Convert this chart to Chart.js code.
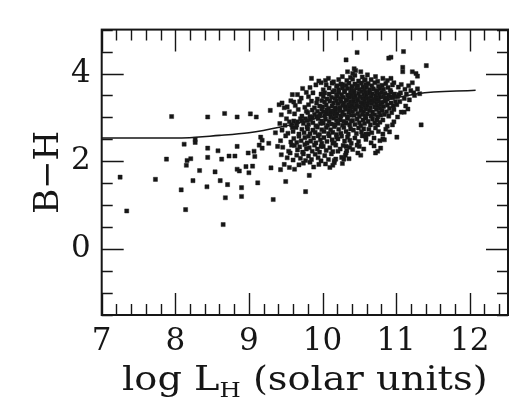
<!DOCTYPE html>
<html>
<head>
<meta charset="utf-8">
<script src="https://cdn.jsdelivr.net/npm/chart.js@4.4.0/dist/chart.umd.min.js"></script>
<style>
  html, body { margin: 0; padding: 0; background: #fff; }
  #wrap { width: 513px; height: 400px; }
</style>
</head>
<body>
<div id="wrap"><canvas id="plot"></canvas></div>
<script>
const xLabels = [7, 8, 9, 10, 11, 12];
const yLabels = [0, 2, 4];

// model colour track
const modelLogL = [7.0, 8.0, 8.6, 9.0, 9.43, 11.29, 12.08];
const modelBH = [2.53, 2.53, 2.59, 2.65, 2.78, 3.54, 3.62];

// galaxies: [log L_H, B-H]
const galaxies = [
  // faint, sparse end
  [7.25,1.64],[7.34,0.87],[7.73,1.59],[7.88,2.05],[7.95,3.02],[8.08,1.35],[8.12,2.39],[8.14,0.90],
  [8.15,1.91],[8.16,2.02],[8.21,2.06],[8.24,1.56],[8.27,2.50],[8.27,2.43],[8.33,1.79],[8.43,1.42],
  [8.44,3.01],[8.44,2.30],[8.44,2.09],[8.54,1.76],[8.58,2.24],[8.61,1.56],[8.63,2.05],[8.65,0.56],
  [8.67,3.09],[8.68,1.17],[8.71,1.47],[8.73,2.12],[8.81,2.12],[8.84,3.01],[8.84,2.34],[8.84,1.82],
  [8.87,1.78],[8.90,1.40],[8.90,1.20],[8.96,1.88],[8.99,2.19],[9.00,1.74],[9.02,3.08],[9.05,1.89],
  [9.07,2.23],[9.08,2.11],[9.10,3.01],[9.12,1.51],[9.16,2.55],[9.18,2.48],[9.14,2.37],[9.18,2.30],
  [9.27,2.41],[9.29,3.16],[9.30,1.85],[9.33,1.13],[9.36,2.65],[9.39,2.34],[9.41,3.29],[9.45,3.33],
  [9.43,1.81],[9.48,3.22],[9.50,1.54],[9.77,1.31],[9.82,1.68],[9.59,3.52],[9.66,3.52],[9.61,3.35],
  // 9.4 - 9.6
  [9.52,3.24],[9.57,3.38],[9.44,3.06],[9.55,3.13],[9.42,2.86],[9.51,2.97],[9.58,2.83],[9.45,2.71],
  [9.53,2.64],[9.59,2.77],[9.43,2.47],[9.50,2.58],[9.57,2.44],[9.46,2.32],[9.54,2.23],[9.58,2.37],
  [9.44,2.15],[9.52,2.08],[9.56,2.19],[9.48,1.93],[9.55,1.86],[9.49,2.82],[9.55,2.90],
  // 9.6 - 9.8
  [9.73,3.66],[9.71,3.44],[9.78,3.57],[9.63,3.27],[9.69,3.36],[9.76,3.23],[9.62,3.08],[9.67,3.18],
  [9.72,3.03],[9.78,3.14],[9.61,2.92],[9.65,2.83],[9.70,2.97],[9.74,2.86],[9.79,2.93],[9.60,2.68],
  [9.64,2.77],[9.68,2.62],[9.72,2.73],[9.75,2.65],[9.79,2.78],[9.61,2.52],[9.65,2.43],[9.68,2.57],
  [9.71,2.47],[9.76,2.54],[9.79,2.42],[9.62,2.36],[9.66,2.26],[9.69,2.33],[9.73,2.21],[9.76,2.38],
  [9.78,2.28],[9.60,2.03],[9.65,2.14],[9.70,2.07],[9.74,2.17],[9.77,2.02],[9.62,1.82],[9.68,1.92],
  [9.74,1.96],[9.66,2.90],[9.72,2.93],[9.77,2.97],
  // 9.8 - 10.0
  [9.85,3.89],[9.95,3.83],[9.83,3.68],[9.91,3.74],[9.98,3.79],[9.81,3.47],[9.87,3.56],[9.93,3.42],
  [9.98,3.53],[9.81,3.29],[9.85,3.37],[9.89,3.22],[9.92,3.33],[9.96,3.26],[9.99,3.38],[9.80,3.11],
  [9.83,3.02],[9.86,3.17],[9.89,3.07],[9.93,3.14],[9.96,3.04],[9.99,3.19],[9.81,2.84],[9.84,2.95],
  [9.87,2.88],[9.91,2.81],[9.94,2.97],[9.97,2.86],[9.99,2.92],[9.80,2.74],[9.83,2.63],[9.87,2.71],
  [9.90,2.66],[9.93,2.78],[9.96,2.61],[9.99,2.72],[9.81,2.57],[9.84,2.46],[9.88,2.53],[9.91,2.42],
  [9.94,2.58],[9.97,2.49],[9.99,2.41],[9.82,2.31],[9.86,2.23],[9.89,2.37],[9.93,2.28],[9.96,2.21],
  [9.98,2.34],[9.81,2.12],[9.85,2.04],[9.90,2.16],[9.94,2.08],[9.98,2.01],[9.83,1.98],[9.88,1.87],
  [9.95,1.93],[9.86,3.00],[9.92,3.02],[9.97,3.08],
  // 10.0 - 10.2
  [10.04,3.84],[10.08,3.89],[10.15,3.81],[10.01,3.63],[10.05,3.74],[10.09,3.67],[10.13,3.78],[10.16,3.61],
  [10.19,3.71],[10.01,3.47],[10.03,3.56],[10.06,3.42],[10.09,3.53],[10.12,3.46],[10.14,3.58],[10.17,3.43],
  [10.19,3.52],[10.00,3.24],[10.03,3.35],[10.05,3.28],[10.08,3.21],[10.10,3.37],[10.13,3.26],[10.15,3.33],
  [10.17,3.22],[10.19,3.38],[10.01,3.13],[10.03,3.04],[10.06,3.17],[10.08,3.08],[10.11,3.01],[10.13,3.15],
  [10.16,3.06],[10.18,3.19],[10.19,3.02],[10.01,2.87],[10.04,2.96],[10.07,2.82],[10.09,2.91],[10.12,2.85],
  [10.15,2.98],[10.17,2.83],[10.19,2.93],[10.02,2.68],[10.05,2.77],[10.08,2.63],[10.11,2.72],[10.14,2.66],
  [10.16,2.79],[10.19,2.61],[10.02,2.54],[10.06,2.45],[10.09,2.58],[10.13,2.49],[10.16,2.42],[10.19,2.55],
  [10.01,2.34],[10.05,2.25],[10.10,2.31],[10.14,2.22],[10.18,2.37],[10.03,2.13],[10.08,2.04],[10.16,2.02],
  [10.12,2.17],[10.04,1.94],[10.14,1.91],[10.10,1.86],[10.21,2.23],[10.18,2.05],[10.14,2.41],
  [10.05,3.10],[10.11,3.12],[10.17,3.14],
  // 10.2 - 10.4
  [10.34,4.04],[10.22,3.86],[10.27,3.93],[10.33,3.84],[10.38,3.91],[10.20,3.72],[10.22,3.63],[10.25,3.76],
  [10.27,3.67],[10.30,3.61],[10.32,3.73],[10.34,3.66],[10.36,3.78],[10.39,3.64],[10.20,3.48],[10.22,3.57],
  [10.24,3.43],[10.26,3.52],[10.28,3.46],[10.30,3.58],[10.32,3.41],[10.34,3.51],[10.36,3.45],[10.38,3.56],
  [10.39,3.47],[10.21,3.31],[10.23,3.22],[10.25,3.36],[10.27,3.27],[10.29,3.33],[10.31,3.21],[10.33,3.38],
  [10.35,3.29],[10.36,3.23],[10.38,3.35],[10.39,3.26],[10.20,3.09],[10.23,3.17],[10.25,3.03],[10.27,3.12],
  [10.30,3.06],[10.32,3.18],[10.34,3.01],[10.36,3.11],[10.37,3.16],[10.39,3.05],[10.21,2.86],[10.24,2.94],
  [10.27,2.82],[10.29,2.91],[10.32,2.87],[10.34,2.97],[10.37,2.83],[10.39,2.92],[10.22,2.73],[10.25,2.64],
  [10.29,2.77],[10.32,2.68],[10.35,2.62],[10.38,2.74],[10.21,2.51],[10.26,2.57],[10.30,2.46],[10.34,2.55],
  [10.37,2.48],[10.24,2.28],[10.28,2.36],[10.33,2.24],[10.37,2.32],[10.26,2.09],[10.31,2.14],[10.36,2.06],
  [10.32,2.34],[10.39,2.41],[10.41,2.27],[10.32,2.19],[10.29,2.05],[10.27,1.95],[10.16,1.97],
  [10.24,3.20],[10.31,3.24],[10.37,3.25],
  // 10.4 - 10.6
  [10.43,4.11],[10.45,4.07],[10.52,4.04],[10.41,3.87],[10.44,3.96],[10.49,3.83],[10.54,3.92],[10.58,3.86],
  [10.40,3.71],[10.42,3.62],[10.44,3.76],[10.46,3.67],[10.48,3.73],[10.50,3.64],[10.53,3.78],[10.55,3.69],
  [10.57,3.61],[10.59,3.74],[10.40,3.53],[10.42,3.44],[10.43,3.58],[10.45,3.49],[10.47,3.41],[10.49,3.55],
  [10.51,3.47],[10.53,3.59],[10.54,3.43],[10.56,3.52],[10.58,3.46],[10.59,3.57],[10.40,3.28],[10.42,3.36],
  [10.44,3.22],[10.46,3.31],[10.48,3.39],[10.50,3.25],[10.52,3.34],[10.53,3.21],[10.55,3.29],[10.57,3.37],
  [10.58,3.24],[10.59,3.32],[10.41,3.14],[10.43,3.05],[10.45,3.18],[10.48,3.09],[10.50,3.02],[10.52,3.16],
  [10.54,3.07],[10.56,3.13],[10.58,3.03],[10.59,3.19],[10.41,2.93],[10.44,2.84],[10.47,2.96],[10.50,2.88],
  [10.52,2.81],[10.55,2.94],[10.57,2.86],[10.59,2.98],[10.42,2.71],[10.46,2.63],[10.49,2.76],[10.53,2.67],
  [10.56,2.74],[10.59,2.62],[10.44,2.53],[10.49,2.45],[10.54,2.58],[10.59,2.56],[10.47,2.37],[10.50,2.34],
  [10.56,2.28],[10.48,2.19],[10.52,2.14],[10.46,3.27],[10.54,3.33],
  // 10.6 - 10.8
  [10.61,3.97],[10.66,3.86],[10.72,3.93],[10.75,3.82],[10.60,3.68],[10.62,3.77],[10.64,3.63],[10.67,3.72],
  [10.69,3.65],[10.71,3.79],[10.73,3.61],[10.76,3.71],[10.78,3.66],[10.60,3.51],[10.62,3.43],[10.64,3.56],
  [10.66,3.47],[10.68,3.54],[10.70,3.41],[10.72,3.49],[10.74,3.58],[10.75,3.44],[10.77,3.53],[10.79,3.46],
  [10.61,3.27],[10.63,3.35],[10.65,3.22],[10.67,3.31],[10.69,3.38],[10.71,3.24],[10.73,3.33],[10.75,3.26],
  [10.76,3.37],[10.78,3.21],[10.79,3.29],[10.61,3.08],[10.64,3.16],[10.66,3.03],[10.68,3.12],[10.71,3.06],
  [10.73,3.18],[10.75,3.01],[10.77,3.11],[10.79,3.05],[10.62,2.91],[10.65,2.83],[10.68,2.96],[10.71,2.87],
  [10.75,2.83],[10.74,2.94],[10.78,2.89],[10.63,2.73],[10.67,2.65],[10.72,2.76],[10.76,2.68],[10.62,2.62],
  [10.66,2.42],[10.70,2.53],[10.78,2.47],[10.70,2.35],[10.72,2.19],[10.75,2.23],[10.79,2.30],[10.57,3.84],
  [10.66,3.39],[10.74,3.41],
  // 10.8 - 11.0
  [10.82,3.89],[10.88,3.84],[10.93,3.89],[10.81,3.73],[10.83,3.64],[10.86,3.77],[10.89,3.68],[10.92,3.62],
  [10.95,3.74],[10.97,3.79],[10.80,3.57],[10.83,3.48],[10.85,3.55],[10.88,3.42],[10.90,3.51],[10.93,3.58],
  [10.95,3.45],[10.98,3.53],[10.81,3.34],[10.83,3.25],[10.86,3.37],[10.88,3.28],[10.91,3.21],[10.93,3.33],
  [10.96,3.26],[10.99,3.36],[10.81,3.16],[10.84,3.07],[10.87,3.13],[10.90,3.03],[10.94,3.11],[10.97,3.18],
  [10.82,2.94],[10.88,2.80],[10.95,2.83],[10.97,2.90],[10.82,2.62],[10.86,2.73],[10.91,2.67],[10.84,2.49],
  [10.82,2.51],[10.85,3.44],[10.92,3.47],[10.97,3.49],
  // 11.0 - 11.4
  [11.03,3.69],[11.07,3.75],[11.12,3.64],[11.17,3.72],[11.02,3.47],[11.06,3.56],[11.11,3.43],[11.18,3.40],
  [11.01,3.29],[11.05,3.36],[11.13,3.26],[11.02,3.01],[11.07,3.12],[11.16,3.19],[11.11,3.12],[11.20,3.61],
  [11.25,3.50],[11.29,3.65],[11.32,3.54],[11.22,3.79],[11.04,3.52],[11.14,3.53],[11.24,3.56],
  // bright outliers
  [10.32,4.31],[10.47,4.48],[10.90,4.35],[10.93,4.37],[11.10,4.50],[11.41,4.18],[11.09,4.14],[11.09,4.04],
  [11.22,4.04],[11.27,4.00],[11.29,3.94],[10.41,4.00],[10.27,3.75],[11.34,2.83],[11.01,2.55],[10.59,2.50]
];

const ink = '#161616';
const serif = '"DejaVu Serif", serif';

// frame, inward ticks on all four sides, and the axis titles
const framePlugin = {
  id: 'frame',
  afterDraw(chart) {
    const { ctx, chartArea: a, scales: { x, y } } = chart;
    ctx.save();
    ctx.strokeStyle = ink;
    ctx.lineCap = 'butt';

    ctx.lineWidth = 1.4;
    ctx.beginPath();
    for (let i = 0; 7 + i * 0.2 <= x.max + 1e-6; i++) {
      const v = 7 + i * 0.2;
      const px = Math.round(x.getPixelForValue(v)) + 0.5;
      const len = Math.abs(v - Math.round(v)) < 1e-6 ? 22 : 11;
      ctx.moveTo(px, a.bottom); ctx.lineTo(px, a.bottom - len);
      ctx.moveTo(px, a.top); ctx.lineTo(px, a.top + len);
    }
    for (let i = 0; -1.5 + i * 0.5 <= y.max + 1e-6; i++) {
      const v = -1.5 + i * 0.5;
      const py = Math.round(y.getPixelForValue(v)) + 0.5;
      const len = yLabels.includes(v) ? 22 : 11;
      ctx.moveTo(a.left, py); ctx.lineTo(a.left + len, py);
      ctx.moveTo(a.right, py); ctx.lineTo(a.right - len, py);
    }
    ctx.stroke();

    ctx.lineWidth = 2;
    ctx.strokeRect(a.left, a.top, a.right - a.left, a.bottom - a.top);

    // x title with subscript H, a little wider than the plain face
    ctx.fillStyle = ink;
    ctx.textBaseline = 'alphabetic';
    const big = '33px ' + serif, small = '21px ' + serif;
    ctx.font = big;
    const w1 = ctx.measureText('log L').width;
    const w3 = ctx.measureText(' (solar units)').width;
    ctx.font = small;
    const w2 = ctx.measureText('H').width;
    const stretch = 1.16;
    const total = (w1 + w2 + w3) * stretch;
    const cx = (a.left + a.right) / 2;
    ctx.save();
    ctx.translate(cx - total / 2, 390);
    ctx.scale(stretch, 1);
    ctx.font = big;
    ctx.fillText('log L', 0, 0);
    ctx.font = small;
    ctx.fillText('H', w1, 7);
    ctx.font = big;
    ctx.fillText(' (solar units)', w1 + w2, 0);
    ctx.restore();

    // y title
    ctx.save();
    ctx.translate(58, (a.top + a.bottom) / 2);
    ctx.rotate(-Math.PI / 2);
    ctx.font = '34px ' + serif;
    ctx.textAlign = 'center';
    ctx.fillText('B\u2212H', 0, 0);
    ctx.restore();

    ctx.restore();
  }
};

new Chart(document.getElementById('plot'), {
  type: 'scatter',
  data: {
    datasets: [
      {
        label: 'galaxies',
        data: galaxies.map(([lx, c]) => ({ x: lx, y: c })),
        pointStyle: 'rect',
        pointRadius: 2.9,
        backgroundColor: ink,
        borderColor: 'rgba(30,30,30,0.5)',
        borderWidth: 0.9
      },
      {
        type: 'line',
        label: 'model',
        data: modelLogL.map((lx, i) => ({ x: lx, y: modelBH[i] })),
        borderColor: ink,
        borderWidth: 1.6,
        pointRadius: 0,
        fill: false,
        cubicInterpolationMode: 'monotone'
      }
    ]
  },
  options: {
    responsive: true,
    maintainAspectRatio: false,
    animation: false,
    layout: { padding: { top: 10, right: 5, left: 0, bottom: 0 } },
    plugins: { legend: { display: false }, tooltip: { enabled: false } },
    scales: {
      x: {
        type: 'linear',
        min: 7,
        max: 12.52,
        grid: { display: false, drawTicks: false },
        border: { display: false },
        afterBuildTicks: s => { s.ticks = xLabels.map(v => ({ value: v })); },
        afterFit: s => { s.height = 85; },
        ticks: {
          color: ink,
          padding: 8,
          maxRotation: 0,
          autoSkip: false,
          font: { family: serif, size: 31 },
          callback: v => String(v)
        }
      },
      y: {
        type: 'linear',
        min: -1.5,
        max: 5,
        grid: { display: false, drawTicks: false },
        border: { display: false },
        afterBuildTicks: s => { s.ticks = yLabels.map(v => ({ value: v })); },
        afterFit: s => { s.width = 101.7; },
        ticks: {
          color: ink,
          padding: 11,
          autoSkip: false,
          font: { family: serif, size: 31 },
          callback: v => String(v)
        }
      }
    }
  },
  plugins: [framePlugin]
});
</script>
</body>
</html>
